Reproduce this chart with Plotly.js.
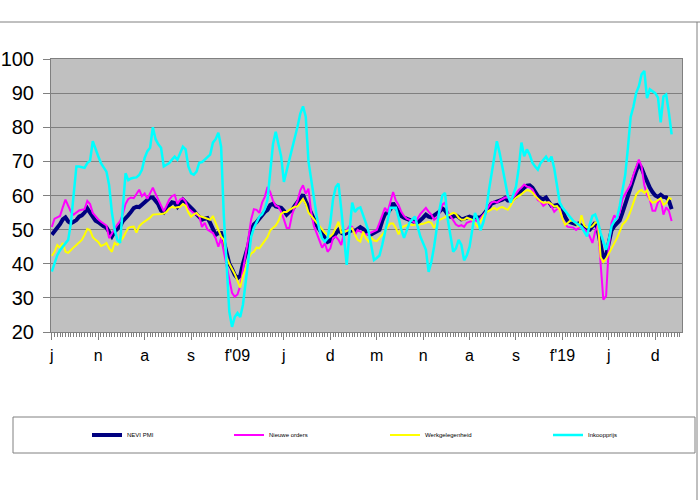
<!DOCTYPE html>
<html>
<head>
<meta charset="utf-8">
<script src="https://cdn.plot.ly/plotly-3.0.1.min.js"></script>
<style>html,body{margin:0;padding:0;background:#fff;}#chart{width:700px;height:500px;}</style>
</head>
<body>
<div id="chart"></div>
<script>
// Tick labels (one label every 17 monthly observations)
const tickLabels = ["j", "n", "a", "s", "f'09", "j", "d", "m", "n", "a", "s", "f'19", "j", "d"];

// NEVI PMI
const nevi = [
  48.5, 49.5, 50.8, 51.6, 53.0, 53.6, 52.4, 51.9, 52.3, 52.8,
  53.8, 54.2, 55.0, 56.2, 55.0, 53.6, 52.6, 52.2, 51.5, 51.0,
  50.6, 49.0, 48.0, 49.4, 50.2, 51.0, 52.5, 53.2, 54.2, 55.2,
  56.3, 56.7, 56.6, 57.3, 58.0, 58.8, 59.4, 59.4, 58.4, 57.4,
  55.6, 55.0, 56.0, 56.8, 58.0, 57.8, 56.7, 57.8, 58.8, 58.0,
  57.2, 56.6, 55.6, 54.5, 53.5, 52.9, 53.2, 53.4, 52.0, 50.0,
  48.5, 49.0, 49.0, 46.5, 43.0, 40.0, 38.5, 36.7, 35.8, 36.5,
  40.0, 42.5, 45.5, 50.0, 51.5, 52.2, 53.3, 54.4, 55.2, 55.8,
  57.2, 57.6, 56.8, 56.6, 56.4, 55.5, 54.4, 55.2, 55.8, 57.0,
  58.2, 59.5, 60.2, 58.3, 56.5, 54.5, 52.5, 51.3, 50.0, 48.8,
  47.5, 46.4, 46.8, 47.8, 49.0, 49.9, 49.1, 48.6, 49.0, 49.5,
  49.9, 49.6, 50.0, 50.7, 50.2, 49.6, 48.8, 48.6, 49.0, 49.4,
  49.9, 52.5, 54.5, 55.0, 56.0, 57.8, 56.6, 55.0, 54.0, 53.5,
  53.1, 52.8, 52.4, 52.2, 52.0, 52.6, 53.5, 54.4, 53.8, 53.6,
  54.2, 54.6, 55.3, 56.2, 55.6, 54.5, 53.8, 53.8, 54.2, 53.7,
  53.0, 53.2, 53.5, 53.8, 53.5, 53.6, 53.6, 53.6, 54.3, 55.2,
  56.4, 57.6, 57.9, 58.0, 58.2, 58.8, 59.3, 58.5, 58.5, 59.0,
  59.6, 60.5, 61.5, 62.3, 62.9, 63.0, 62.3, 61.2, 59.8, 59.2,
  58.9, 59.4, 58.4, 57.0, 57.0, 57.2, 56.5, 55.6, 53.7, 52.4,
  52.1, 51.7, 51.6, 51.8, 51.0, 50.8, 50.0, 50.0, 51.0, 52.0,
  49.8, 46.0, 41.5, 42.5, 46.5, 49.8, 51.0, 52.0, 52.7, 55.0,
  57.5, 59.5, 62.8, 65.2, 67.2, 69.3, 68.0, 66.0, 64.0, 62.3,
  61.0, 60.0, 59.6, 60.2, 59.6, 59.5, 58.5, 56.0
];

// Nieuwe orders
const orders = [
  50.8, 53.2, 53.6, 54.0, 56.5, 58.8, 57.0, 55.2, 54.4, 55.0,
  55.6, 55.8, 56.0, 58.4, 57.5, 54.9, 53.8, 53.0, 52.3, 51.8,
  51.2, 47.5, 49.0, 50.2, 51.5, 52.5, 54.5, 57.5, 59.0, 59.4,
  59.2, 60.4, 61.7, 59.8, 60.6, 59.0, 60.8, 62.3, 60.5, 58.8,
  57.2, 55.4, 57.0, 58.8, 59.8, 60.2, 57.5, 58.8, 59.2, 58.2,
  56.2, 55.4, 54.8, 54.4, 54.0, 50.8, 52.0, 50.0, 49.5, 49.0,
  47.5, 45.0, 47.5, 43.5, 38.5, 35.0, 31.5, 30.3, 31.0, 33.5,
  38.0, 42.6, 47.5, 53.0, 56.0, 55.8, 54.9, 57.9, 59.6, 62.5,
  61.0, 58.5, 57.0, 56.7, 55.2, 53.0, 50.5, 50.5, 54.4, 56.7,
  58.5, 61.5, 63.0, 60.5, 62.0, 55.0, 51.0, 49.0, 46.5, 44.7,
  46.0, 43.5, 44.5, 47.5, 48.0, 47.0, 45.5, 49.0, 49.8, 51.0,
  50.8, 48.5, 49.9, 49.5, 49.0, 48.5, 48.8, 49.1, 49.5, 49.9,
  52.0, 54.0, 56.4, 55.2, 58.5, 61.0, 58.5, 57.2, 55.2, 54.0,
  53.2, 52.9, 52.5, 52.0, 53.5, 54.6, 55.5, 56.4, 55.3, 54.4,
  52.9, 53.5, 55.0, 57.3, 57.9, 55.0, 54.0, 52.6, 51.5, 51.0,
  51.3, 50.8, 52.0, 52.3, 52.5, 52.8, 52.4, 53.3, 54.2, 55.3,
  56.8, 57.9, 58.2, 57.9, 58.5, 59.0, 59.4, 59.5, 58.9, 59.4,
  60.6, 61.6, 62.3, 63.2, 62.6, 62.4, 61.8, 60.3, 58.7, 58.2,
  57.0, 57.6, 58.0, 56.8, 55.2, 56.0, 56.2, 53.4, 51.5, 50.8,
  50.8, 50.6, 49.9, 50.5, 50.8, 50.0, 49.4, 48.0, 46.1, 49.4,
  51.4, 40.0, 29.5, 30.5, 45.0, 52.0, 54.2, 53.0, 55.0, 59.0,
  60.5, 61.8, 63.3, 66.0, 68.5, 70.5, 68.5, 63.0, 60.2, 58.8,
  55.5, 55.5, 58.0, 59.0, 54.4, 56.5, 55.5, 52.5
];

// Werkgelegenheid
const jobs = [
  42.3, 43.5, 45.5, 44.7, 46.1, 43.5, 43.2, 44.1, 44.8, 45.5,
  46.3, 47.0, 48.5, 50.2, 49.8, 47.8, 47.0, 46.4, 45.2, 45.5,
  46.1, 44.5, 43.5, 46.1, 45.5, 46.4, 47.5, 49.1, 50.5, 50.8,
  50.9, 49.1, 51.0, 51.8, 52.3, 52.9, 53.5, 54.4, 54.4, 54.4,
  54.6, 54.7, 55.2, 56.2, 56.7, 56.4, 56.5, 56.7, 57.5, 57.0,
  55.0, 53.8, 54.5, 54.9, 54.0, 53.8, 53.5, 53.2, 52.9, 54.0,
  52.0, 50.0, 48.0, 47.0, 42.0, 40.0, 38.5, 37.0, 35.0, 33.0,
  36.5, 38.5, 41.5, 43.0, 43.5, 44.8, 44.5, 45.5, 46.5, 47.8,
  49.8, 50.5, 51.2, 52.5, 54.6, 55.2, 55.2, 55.8, 56.2, 56.7,
  56.8, 57.9, 59.0, 57.5, 55.0, 54.0, 53.0, 52.0, 51.0, 50.0,
  49.1, 48.4, 48.0, 48.8, 50.5, 52.3, 49.1, 49.3, 49.6, 50.0,
  50.4, 48.5, 47.0, 46.5, 49.4, 47.5, 46.5, 47.6, 46.8, 46.6,
  47.5, 48.3, 49.5, 50.8, 51.8, 51.8, 50.5, 48.6, 50.4, 51.0,
  51.2, 51.6, 51.3, 51.5, 51.2, 51.6, 51.7, 52.1, 52.3, 52.0,
  50.5, 51.8, 52.9, 53.2, 53.6, 54.0, 54.5, 54.9, 54.6, 53.5,
  52.9, 52.9, 53.5, 53.2, 52.9, 51.8, 50.8, 52.5, 54.0, 55.0,
  55.5, 55.9, 56.4, 55.8, 56.4, 56.6, 56.2, 55.8, 57.0, 58.5,
  59.3, 59.8, 60.4, 61.1, 61.6, 61.4, 60.9, 59.9, 59.2, 58.3,
  57.9, 57.9, 58.0, 57.5, 56.8, 56.9, 55.8, 53.3, 51.4, 52.0,
  52.7, 52.5, 51.8, 50.8, 54.2, 51.2, 50.6, 50.6, 51.0, 52.0,
  52.3, 42.0, 40.5, 41.5, 43.0, 44.8, 46.0, 47.5, 49.5, 51.5,
  52.3, 53.5, 55.5, 58.0, 60.2, 61.2, 61.6, 60.8, 61.5, 58.8,
  57.9, 58.1, 58.6, 59.2, 57.3, 57.8, 59.3, 58.9
];

// Inkoopprijs
const prices = [
  37.7, 40.0, 42.5, 44.0, 45.0, 46.0, 47.0, 52.0, 60.0, 68.5,
  68.5, 68.3, 68.1, 69.5, 70.2, 75.9, 73.5, 71.5, 69.5, 68.2,
  67.0, 63.0, 55.0, 50.0, 47.0, 46.1, 57.0, 66.5, 64.5, 65.0,
  65.2, 65.3, 66.0, 67.5, 71.0, 73.0, 74.0, 80.0, 76.5, 75.0,
  74.0, 68.5, 69.0, 69.5, 70.5, 71.4, 70.5, 72.5, 74.3, 73.5,
  68.5, 66.5, 66.1, 67.0, 69.6, 69.8, 70.5, 71.2, 72.0, 75.5,
  76.5, 78.4, 74.3, 54.0, 40.0, 26.0, 21.5, 24.4, 25.6, 24.4,
  28.0, 34.4, 42.0, 47.9, 50.5, 52.0, 53.8, 54.5, 56.0, 58.8,
  68.0, 75.0, 78.7, 75.0, 71.4, 64.0, 67.5, 70.5, 74.0, 77.0,
  80.2, 84.0, 86.1, 83.1, 70.0, 64.5, 60.0, 54.0, 50.0, 47.5,
  46.5, 47.5, 52.0, 59.0, 62.5, 63.5, 56.0, 47.0, 39.7, 49.0,
  57.9, 55.2, 56.2, 56.5, 54.5, 52.0, 49.5, 45.5, 41.1, 41.7,
  42.4, 45.5, 49.1, 53.5, 56.4, 56.4, 56.4, 53.5, 50.0, 47.6,
  50.0, 52.0, 53.0, 53.8, 50.8, 47.9, 46.0, 44.1, 37.6, 40.5,
  45.0, 51.0, 56.0, 60.0, 60.8, 53.0, 48.5, 43.5, 44.5, 47.0,
  45.5, 41.0, 42.5, 45.0, 50.0, 54.9, 53.0, 49.8, 52.0, 55.2,
  61.1, 66.0, 71.0, 75.9, 72.5, 68.0, 63.8, 60.0, 57.9, 60.0,
  62.6, 68.0, 75.5, 71.5, 73.5, 72.0, 69.6, 68.5, 67.6, 69.5,
  70.5, 71.4, 70.0, 71.4, 68.0, 63.0, 58.0, 56.5, 55.5, 54.4,
  53.5, 52.5, 52.0, 51.5, 50.8, 49.4, 48.0, 51.5, 54.0, 54.4,
  52.3, 49.0, 46.5, 44.1, 47.0, 51.0, 52.5, 53.5, 57.0, 61.0,
  66.0, 74.0, 83.0, 86.0, 90.0, 92.0, 95.5, 96.5, 88.5, 91.1,
  90.5, 90.0, 88.7, 81.4, 89.0, 89.6, 84.3, 77.9
];

const seriesNames = ["NEVI PMI", "Nieuwe orders", "Werkgelegenheid", "Inkoopprijs"];

const idx = nevi.map((_, i) => i);
const tickPos = tickLabels.map((_, k) => k * 17);

const FONT = "Liberation Sans, Arial, sans-serif";

function trace(y, name, color, width, legendId) {
  return {
    x: idx, y: y, name: name, type: "scatter", mode: "lines",
    line: {color: color, width: width},
    legend: legendId, hoverinfo: "skip"
  };
}

const data = [
  trace(nevi, seriesNames[0], "#000080", 4, "legend"),
  trace(orders, seriesNames[1], "#FF00FF", 2, "legend2"),
  trace(jobs, seriesNames[2], "#FFFF00", 2, "legend3"),
  trace(prices, seriesNames[3], "#00FFFF", 2.5, "legend4")
];

function px2x(px) { return (px - 51) / 631; }
function py2y(py) { return (332 - py) / 273; }

function leg(xpx) {
  return {
    orientation: "h", x: px2x(xpx), xanchor: "left", y: py2y(435), yanchor: "middle",
    font: {family: FONT, size: 6, color: "#000"}, bgcolor: "rgba(0,0,0,0)",
    borderwidth: 0, itemclick: false, itemdoubleclick: false
  };
}

const layout = {
  width: 700, height: 500, autosize: false,
  margin: {l: 51, r: 18, t: 59, b: 168, pad: 0},
  paper_bgcolor: "#FFFFFF", plot_bgcolor: "#C0C0C0",
  font: {family: FONT, color: "#000"},
  showlegend: true,
  xaxis: {
    range: [-0.3, 230.8], tickmode: "array", tickvals: tickPos, ticktext: tickLabels,
    ticks: "outside", ticklen: 7, tickwidth: 1, tickcolor: "#808080",
    tickfont: {family: FONT, size: 16, color: "#000"}, ticklabelstandoff: 2,
    showgrid: false, zeroline: false, showline: true, linecolor: "#808080", linewidth: 1, mirror: true,
    minor: {tick0: 0, dtick: 1, ticks: "outside", ticklen: 4, tickwidth: 1, tickcolor: "#808080", showgrid: false},
    fixedrange: true
  },
  yaxis: {
    range: [20, 100], dtick: 10, tick0: 0,
    ticks: "outside", ticklen: 7, tickwidth: 1, tickcolor: "#808080",
    tickfont: {family: FONT, size: 20, color: "#000"}, ticklabelstandoff: 5,
    showgrid: true, gridcolor: "#7F7F7F", gridwidth: 1,
    zeroline: false, showline: true, linecolor: "#808080", linewidth: 1, mirror: true,
    fixedrange: true
  },
  legend: leg(87),
  legend2: leg(229),
  legend3: leg(385),
  legend4: leg(548),
  shapes: [
    {type: "rect", xref: "paper", yref: "paper", x0: px2x(13), x1: px2x(695), y0: py2y(453), y1: py2y(417),
     line: {color: "#808080", width: 1}, fillcolor: "rgba(0,0,0,0)", layer: "below"},
    {type: "line", xref: "paper", yref: "paper", x0: px2x(0), x1: px2x(700), y0: py2y(22), y1: py2y(22),
     line: {color: "#808080", width: 1}},
    {type: "line", xref: "paper", yref: "paper", x0: px2x(697), x1: px2x(697), y0: py2y(22), y1: py2y(500),
     line: {color: "#808080", width: 1}}
  ]
};

Plotly.newPlot("chart", data, layout, {displayModeBar: false, staticPlot: true});
</script>
</body>
</html>
